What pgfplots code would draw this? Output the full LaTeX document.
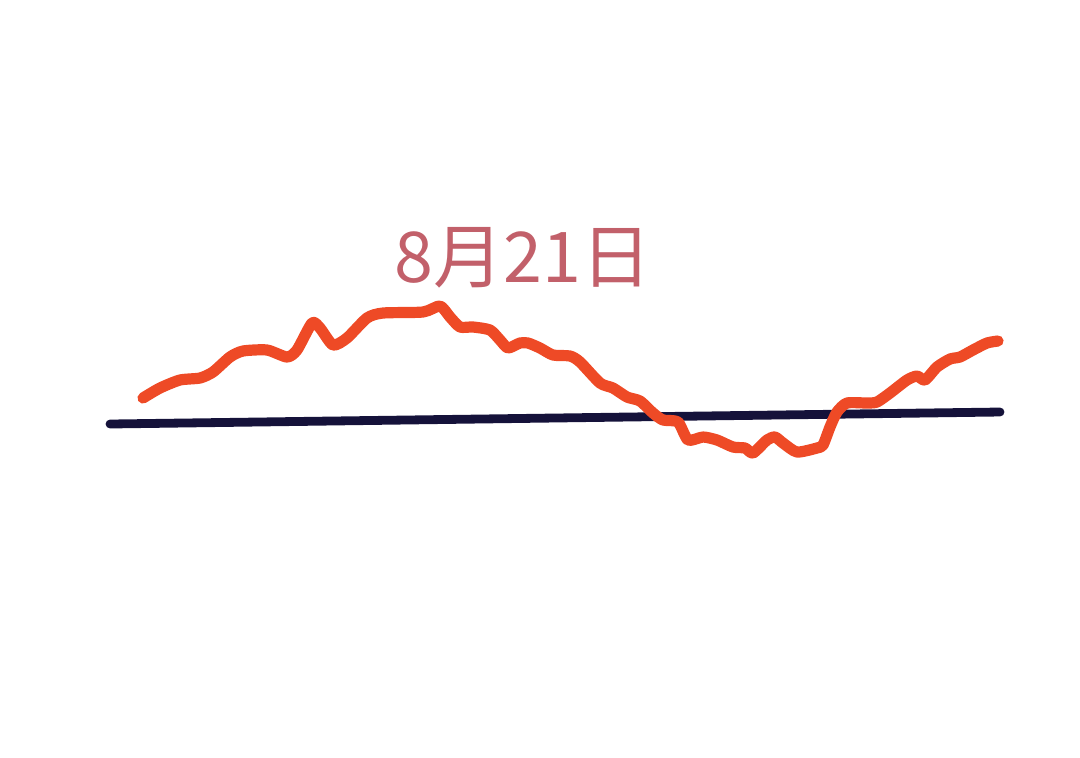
\documentclass[border=0pt]{standalone}
\usepackage{pgfplots}
\pgfplotsset{compat=1.18}
\usepackage{fontspec}
\newfontfamily\cjk{Noto Sans CJK SC}

\definecolor{redline}{HTML}{EE4A26}
\definecolor{navy}{HTML}{15123A}
\definecolor{datecol}{HTML}{C2606A}

\begin{document}
\begin{tikzpicture}
  \begin{axis}[
      scale only axis,
      width=540pt, height=378.5pt,
      xmin=0, xmax=1080,
      ymin=0, ymax=757,
      y dir=reverse,
      hide axis,
      clip=false
    ]
    % keep the whole canvas as the page
    \path (rel axis cs:0,0) rectangle (rel axis cs:1,1);

    % baseline
    \addplot[navy, line width=4.4pt, line cap=round] coordinates {
      (110,424) (1000,412)
    };

    % the curve in pixel units
    \addplot[redline, line width=5.6pt, line cap=round, line join=round,
             smooth, tension=0.4] coordinates {
      (143,398) (160,388) (180,380) (200,378) (213,372) (230,357)
      (243,351) (267,350) (287,357) (297,350) (312,323) (320,328)
      (333,345) (347,338) (367,318) (383,313) (423,312) (440,306)
      (450,317) (460,327) (473,327) (490,330) (500,340) (508,348)
      (520,343) (528,343) (540,348) (553,355) (570,356) (580,362)
      (600,383) (613,388) (627,397) (640,401) (653,413) (663,420)
      (678,422) (688,440) (703,437) (717,440) (733,447) (745,448)
      (753,453) (767,440) (775,437) (783,443) (797,452) (817,448)
      (823,445) (830,427) (837,412) (847,403) (867,403) (877,402)
      (890,393) (907,380) (917,376) (925,380) (937,367) (950,359)
      (960,357) (973,350) (987,343) (998,341)
    };

    \node[text=datecol, font=\cjk\fontsize{35}{40}\selectfont]
      at (axis cs:523,258) {8月21日};
  \end{axis}
\end{tikzpicture}
\end{document}
